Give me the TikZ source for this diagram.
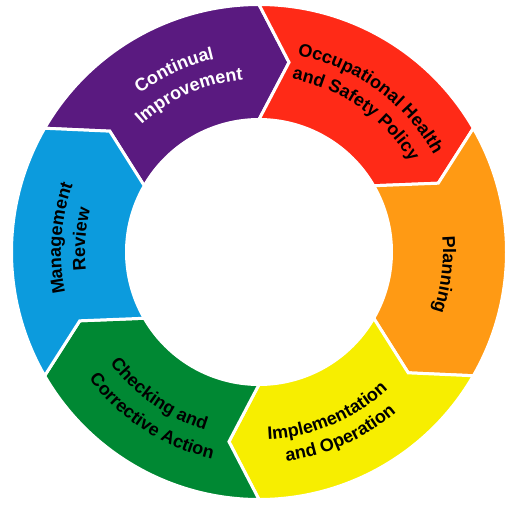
\documentclass[tikz,border=0pt]{standalone}
\usepackage{fontspec}
\setmainfont{Liberation Sans}
\usetikzlibrary{decorations.text}

\definecolor{ringPurple}{HTML}{5A1A80}
\definecolor{ringRed}{HTML}{FF2A17}
\definecolor{ringOrange}{HTML}{FF9A14}
\definecolor{ringYellow}{HTML}{F7EE00}
\definecolor{ringGreen}{HTML}{008833}
\definecolor{ringBlue}{HTML}{0C9BDD}

\newcommand{\ringfont}{\bfseries\fontsize{18}{21}\selectfont}

\begin{document}
\begin{tikzpicture}[
    x=1pt, y=1pt,
    segment/.style={draw=white, line width=3pt, line join=miter},
    arclabel/.style={decorate, decoration={text along path, text align=center,
                     text={|\ringfont|#1}}},
    whitelabel/.style={arclabel={#1}, decoration={text color=white}}
]
\useasboundingbox (-259,-255) rectangle (259,252);

% the six chevrons, clockwise from the top
\filldraw[segment, fill=ringPurple] (150:247.5) arc[start angle=150, end angle=90, radius=247.5pt] -- (81:192) -- (90:132.5) arc[start angle=90, end angle=150, radius=132.5pt] -- (141:192) -- cycle;
\filldraw[segment, fill=ringRed] (90:247.5) arc[start angle=90, end angle=30, radius=247.5pt] -- (21:192) -- (30:132.5) arc[start angle=30, end angle=90, radius=132.5pt] -- (81:192) -- cycle;
\filldraw[segment, fill=ringOrange] (30:247.5) arc[start angle=30, end angle=-30, radius=247.5pt] -- (-39:192) -- (-30:132.5) arc[start angle=-30, end angle=30, radius=132.5pt] -- (21:192) -- cycle;
\filldraw[segment, fill=ringYellow] (-30:247.5) arc[start angle=-30, end angle=-90, radius=247.5pt] -- (-99:192) -- (-90:132.5) arc[start angle=-90, end angle=-30, radius=132.5pt] -- (-39:192) -- cycle;
\filldraw[segment, fill=ringGreen] (-90:247.5) arc[start angle=-90, end angle=-150, radius=247.5pt] -- (-159:192) -- (-150:132.5) arc[start angle=-150, end angle=-90, radius=132.5pt] -- (-99:192) -- cycle;
\filldraw[segment, fill=ringBlue] (-150:247.5) arc[start angle=-150, end angle=-210, radius=247.5pt] -- (141:192) -- (-210:132.5) arc[start angle=-210, end angle=-150, radius=132.5pt] -- (-159:192) -- cycle;

% labels, upper half read clockwise
\path[whitelabel={Continual}] (160:198) arc[start angle=160, end angle=70, radius=198pt];
\path[whitelabel={Improvement}] (159:173) arc[start angle=159, end angle=69, radius=173pt];
\path[arclabel={Occupational Health}] (99:200) arc[start angle=99, end angle=9, radius=200pt];
\path[arclabel={and Safety Policy}] (100:176) arc[start angle=100, end angle=10, radius=176pt];
\path[arclabel={Planning}] (38:184) arc[start angle=38, end angle=-52, radius=184pt];
\path[arclabel={Management}] (221:198) arc[start angle=221, end angle=131, radius=198pt];
\path[arclabel={Review}] (221:174) arc[start angle=221, end angle=131, radius=174pt];

% lower half read counterclockwise
\path[arclabel={Implementation}] (-112:188) arc[start angle=-112, end angle=-22, radius=188pt];
\path[arclabel={and Operation}] (-111:211) arc[start angle=-111, end angle=-21, radius=211pt];
\path[arclabel={Checking and}] (-170:186) arc[start angle=-170, end angle=-80, radius=186pt];
\path[arclabel={Corrective Action}] (-168:212) arc[start angle=-168, end angle=-78, radius=212pt];
\end{tikzpicture}
\end{document}
